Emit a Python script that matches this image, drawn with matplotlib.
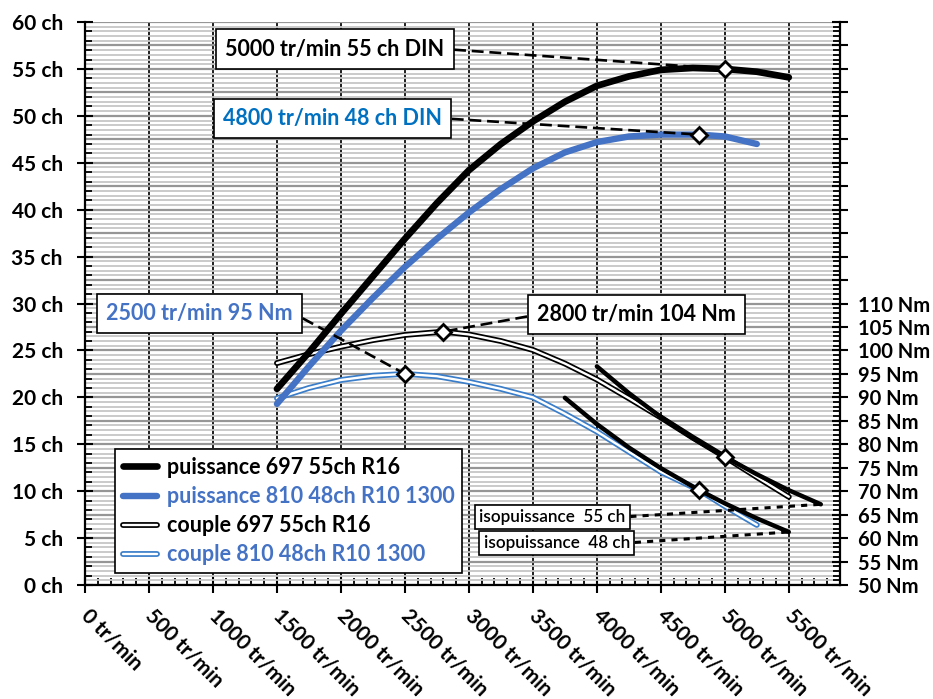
import matplotlib
matplotlib.use("Agg")
import matplotlib.pyplot as plt
import numpy as np
from matplotlib.lines import Line2D
from matplotlib.legend_handler import HandlerTuple
from matplotlib.ticker import MultipleLocator, FuncFormatter

# ---- data -------------------------------------------------------------
# power curves (ch) versus engine speed (tr/min)
rpm_p697 = [1500, 1750, 2000, 2250, 2500, 2750, 3000, 3250, 3500, 3750,
            4000, 4250, 4500, 4750, 5000, 5250, 5500]
ch_p697 = [20.9, 24.8, 28.9, 32.9, 36.9, 40.7, 44.2, 47.0, 49.4, 51.5,
           53.2, 54.2, 54.9, 55.1, 55.0, 54.7, 54.1]

rpm_p810 = [1500, 1750, 2000, 2250, 2500, 2750, 3000, 3250, 3500, 3750,
            4000, 4250, 4500, 4800, 5000, 5250]
ch_p810 = [19.3, 23.3, 27.1, 30.6, 33.9, 36.9, 39.7, 42.2, 44.4, 46.1,
           47.2, 47.8, 48.0, 48.0, 47.8, 47.0]

# torque curves (Nm)
rpm_c697 = [1500, 1750, 2000, 2250, 2500, 2800, 3000, 3250, 3500, 3750,
            4000, 4250, 4500, 4750, 5000, 5250, 5500]
nm_c697 = [97.3, 99.2, 100.8, 102.2, 103.3, 104.0, 103.4, 102.0, 100.1, 97.2,
           93.8, 89.8, 85.7, 81.4, 77.3, 73.0, 68.8]

rpm_c810 = [1500, 1750, 2000, 2250, 2500, 2750, 3000, 3250, 3500, 3750,
            4000, 4250, 4500, 4800, 5000, 5250]
nm_c810 = [89.8, 92.0, 93.7, 94.6, 95.0, 94.5, 93.3, 91.8, 90.0, 86.5,
           82.7, 78.4, 74.1, 70.2, 66.8, 62.8]

# constant-power torque curves (Nm)
rpm_iso55 = [4000, 4250, 4500, 4750, 5000, 5250, 5500, 5750]
nm_iso55 = [96.6, 90.9, 85.8, 81.3, 77.3, 73.6, 70.2, 67.2]
rpm_iso48 = [3750, 4000, 4250, 4500, 4800, 5000, 5250, 5500]
nm_iso48 = [89.9, 84.3, 79.3, 74.9, 70.2, 67.4, 64.2, 61.3]

# highlighted operating points
peak_p697 = (5000, 55)
peak_p810 = (4800, 48)
peak_c697 = (2800, 104)
peak_c810 = (2500, 95)
iso55_pt = (5000, 77.3)
iso48_pt = (4800, 70.2)

x_ticks = [0, 500, 1000, 1500, 2000, 2500, 3000, 3500, 4000, 4500, 5000, 5500]
ch_ticks = list(range(0, 61, 5))
nm_ticks = list(range(50, 111, 5))

legend_labels = ["puissance 697 55ch R16", "puissance 810 48ch R10 1300",
                 "couple 697 55ch R16", "couple 810 48ch R10 1300"]

# ---- style --------------------------------------------------------------
FONT = "Lato"
plt.rcParams["font.family"] = [FONT, "DejaVu Sans"]
plt.rcParams["font.weight"] = "bold"

BLACK = "#000000"
BLUE_P = "#4472C4"
BLUE_C = "#3A7DC9"
BLUE_T = "#0070C0"

W, H = 933, 699
fig = plt.figure(figsize=(W / 100, H / 100), dpi=100)
L, R, T, B = 85, 840, 22, 585
ax_t = fig.add_axes([L / W, 1 - B / H, (R - L) / W, (B - T) / H])
ax_p = ax_t.twinx()

ax_t.set_xlim(0, 5900)
ax_t.set_ylim(50, 170)
ax_p.set_ylim(0, 60)

# torque axis on the right, power axis on the left
ax_t.yaxis.tick_right()
ax_p.yaxis.tick_left()

for s in ["left", "top"]:
    ax_t.spines[s].set_visible(False)
for s in ["right", "top", "bottom"]:
    ax_p.spines[s].set_visible(False)
for sp in [ax_t.spines["right"], ax_t.spines["bottom"], ax_p.spines["left"]]:
    sp.set_linewidth(1.6)
    sp.set_color("black")

ax_t.set_xticks(x_ticks)
ax_t.xaxis.set_minor_locator(MultipleLocator(100))
ax_t.set_xticklabels([f"{v} tr/min" for v in x_ticks], rotation=-45,
                     ha="left", va="center", rotation_mode="anchor",
                     fontsize=15, fontweight="bold")

ax_t.yaxis.set_major_locator(MultipleLocator(5))
ax_t.yaxis.set_minor_locator(MultipleLocator(1))
ax_t.yaxis.set_major_formatter(FuncFormatter(
    lambda v, p: f"{int(round(v))} Nm" if 50 <= v <= 110.5 else ""))

ax_p.set_yticks(ch_ticks)
ax_p.set_yticklabels([f"{v} ch" for v in ch_ticks])
ax_p.yaxis.set_minor_locator(MultipleLocator(1))

ax_t.tick_params(axis="x", which="major", direction="inout", length=12,
                 width=1.5, pad=14)
ax_t.tick_params(axis="x", which="minor", direction="in", length=5, width=1.3)
ax_t.tick_params(axis="y", which="major", direction="inout", length=12,
                 width=1.5, labelsize=14.5, pad=7)
ax_t.tick_params(axis="y", which="minor", direction="in", length=5, width=1.3)
ax_p.tick_params(axis="y", which="major", direction="inout", length=12,
                 width=1.5, labelsize=15, pad=10)
ax_p.tick_params(axis="y", which="minor", direction="in", length=5, width=1.3)
for lab in ax_t.get_yticklabels() + ax_p.get_yticklabels():
    lab.set_fontweight("bold")

# background grid
ax_t.set_axisbelow(True)
ax_t.grid(which="minor", axis="y", color="#c6c6c6", lw=1.3)
ax_t.grid(which="major", axis="y", color="#969696", lw=1.6)
ax_t.grid(which="major", axis="x", color="#1e1e1e", lw=1.4)

# ---- torque curves (double line) --------------------------------------
OUT_W, IN_W = 4.2, 1.7


def double_line(ax, x, y, color, z):
    ax.plot(x, y, color=color, lw=OUT_W, solid_capstyle="round",
            solid_joinstyle="round", zorder=z)
    ax.plot(x, y, color="white", lw=IN_W, solid_capstyle="round",
            solid_joinstyle="round", zorder=z + 0.1)


double_line(ax_t, rpm_c810, nm_c810, BLUE_C, 3)
double_line(ax_t, rpm_c697, nm_c697, BLACK, 3.5)

ax_t.plot(rpm_iso48, nm_iso48, color=BLACK, lw=3.2, solid_capstyle="round",
          zorder=4)
ax_t.plot(rpm_iso55, nm_iso55, color=BLACK, lw=3.2, solid_capstyle="round",
          zorder=4)

dkw = dict(marker="D", ms=8.5, mfc="white", mec="black", mew=2, ls="none",
           zorder=6)
ax_t.plot(*iso55_pt, **dkw)
ax_t.plot(*iso48_pt, **dkw)

# ---- power curves -------------------------------------------------------
ax_p.plot(rpm_p810, ch_p810, color=BLUE_P, lw=4.6, solid_capstyle="round",
          solid_joinstyle="round", zorder=3)
ax_p.plot(rpm_p697, ch_p697, color=BLACK, lw=4.8, solid_capstyle="round",
          solid_joinstyle="round", zorder=3)


# ---- callouts -----------------------------------------------------------
def callout(text, xy, xy_tr, box_xy, color, side, ls, lw=1.9, fs=15.5,
            weight="bold", pad=0.42):
    relpos = (1, 0.5) if side == "right" else (0, 0.5)
    ax_p.annotate(text, xy=xy, xycoords=xy_tr, xytext=box_xy,
                  textcoords="axes fraction", ha="center", va="center",
                  fontsize=fs, fontweight=weight, color=color, zorder=8,
                  bbox=dict(boxstyle=f"square,pad={pad}", fc="white",
                            ec="black", lw=1.2),
                  arrowprops=dict(arrowstyle="-", color="black", lw=lw,
                                  ls=ls, capstyle="butt", relpos=relpos,
                                  shrinkA=0, shrinkB=0))


dash = (0, (4.5, 2.2))
dot = (0, (2.0, 2.0))
callout("5000 tr/min 55 ch DIN", peak_p697, ax_p.transData, (0.331, 0.952),
        BLACK, "right", dash)
callout("4800 tr/min 48 ch DIN", peak_p810, ax_p.transData, (0.328, 0.829),
        BLUE_T, "right", dash)
callout("2500 tr/min 95 Nm", peak_c810, ax_t.transData, (0.152, 0.483),
        BLUE_P, "right", dash)
callout("2800 tr/min 104 Nm", peak_c697, ax_t.transData, (0.730, 0.480),
        BLACK, "left", dash)
callout("isopuissance  55 ch", (rpm_iso55[-1], nm_iso55[-1]), ax_t.transData,
        (0.619, 0.121), BLACK, "right", dot, lw=2.2, fs=12.3,
        weight="semibold", pad=0.25)
callout("isopuissance  48 ch", (rpm_iso48[-1], nm_iso48[-1]), ax_t.transData,
        (0.625, 0.075), BLACK, "right", dot, lw=2.2, fs=12.3,
        weight="semibold", pad=0.25)

# diamonds on the power / torque peaks (above the callout lines)
dkw["zorder"] = 9
ax_p.plot(*peak_p697, **dkw)
ax_p.plot(*peak_p810, **dkw)
ax_p.plot(*peak_c697, transform=ax_t.transData, **dkw)
ax_p.plot(*peak_c810, transform=ax_t.transData, **dkw)

# ---- legend -------------------------------------------------------------
h1 = Line2D([], [], color=BLACK, lw=4.8, solid_capstyle="round")
h2 = Line2D([], [], color=BLUE_P, lw=4.6, solid_capstyle="round")
h3 = (Line2D([], [], color=BLACK, lw=OUT_W, solid_capstyle="round"),
      Line2D([], [], color="white", lw=IN_W, solid_capstyle="round"))
h4 = (Line2D([], [], color=BLUE_C, lw=OUT_W, solid_capstyle="round"),
      Line2D([], [], color="white", lw=IN_W, solid_capstyle="round"))
leg = ax_p.legend([h1, h2, h3, h4], legend_labels,
                  handler_map={tuple: HandlerTuple(ndivide=1, pad=0)},
                  loc="lower left", bbox_to_anchor=(0.0397, 0.0213),
                  borderaxespad=0, fancybox=False, framealpha=1,
                  edgecolor="black", prop=dict(family=FONT, weight="bold",
                                               size=15.5),
                  handlelength=1.6, handletextpad=0.45, borderpad=0.35,
                  labelspacing=0.38)
leg.get_frame().set_linewidth(1.2)
leg.set_zorder(10)
for txt, c in zip(leg.get_texts(), [BLACK, BLUE_P, BLACK, BLUE_P]):
    txt.set_color(c)

fig.savefig("out.png", dpi=100)
